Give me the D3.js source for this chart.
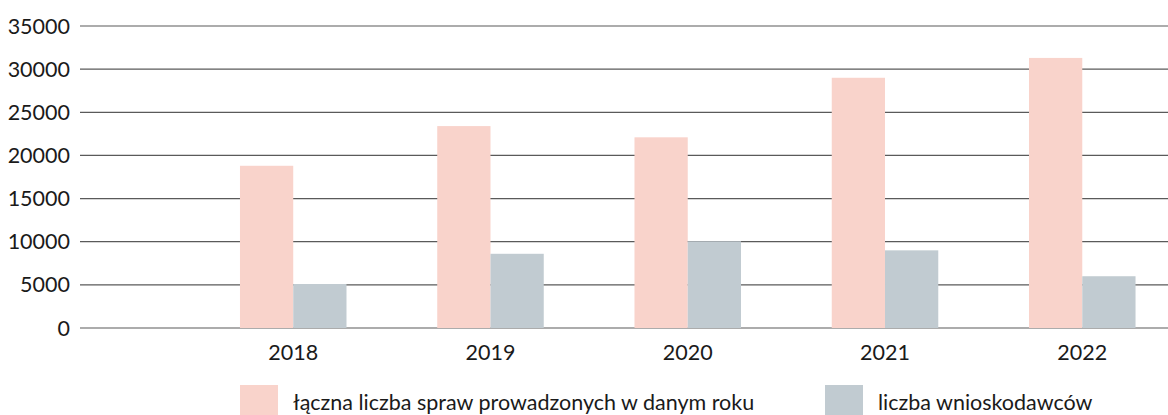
<!DOCTYPE html>
<html>
<head>
<meta charset="utf-8">
<script src="https://cdn.jsdelivr.net/npm/d3@7"></script>
<style>
  body { margin: 0; background: #fff; }
  svg { display: block; font-family: Lato, "Open Sans", sans-serif; }
</style>
</head>
<body>
<script>
const years = ["2018", "2019", "2020", "2021", "2022"];
const seriesNames = ["łączna liczba spraw prowadzonych w danym roku", "liczba wnioskodawców"];
const cases = [18800, 23400, 22100, 29000, 31300];
const applicants = [5100, 8600, 10050, 9000, 6000];
const yTicks = [0, 5000, 10000, 15000, 20000, 25000, 30000, 35000];
const colors = ["#f9d3cb", "#c1cbd1"];

const width = 1168, height = 415;
const plotLeft = 80, plotTop = 26, plotBottom = 328;
const fontSize = 21.5;

const svg = d3.select("body").append("svg")
  .attr("width", width)
  .attr("height", height);

const y = d3.scaleLinear().domain([0, 35000]).range([plotBottom, plotTop]);
const x = d3.scaleBand().domain(years).range([194.6, 1180.9])
  .paddingInner(0.46).paddingOuter(0.23);
const xs = d3.scaleBand().domain([0, 1]).range([0, x.bandwidth()]);

// gridlines
svg.append("g")
  .selectAll("line")
  .data(yTicks)
  .join("line")
  .attr("x1", plotLeft)
  .attr("x2", width)
  .attr("y1", d => y(d))
  .attr("y2", d => y(d))
  .attr("stroke", "#5a5a5a")
  .attr("stroke-width", 1.2);

// y labels
svg.append("g")
  .selectAll("text")
  .data(yTicks)
  .join("text")
  .attr("x", 70)
  .attr("y", d => y(d))
  .attr("dy", "0.35em")
  .attr("text-anchor", "end")
  .attr("font-size", fontSize)
  .attr("fill", "#1a1a1a")
  .text(d => d);

// bars
const data = years.map((yr, i) => ({ year: yr, values: [cases[i], applicants[i]] }));
svg.append("g")
  .selectAll("g")
  .data(data)
  .join("g")
  .attr("transform", d => `translate(${x(d.year)},0)`)
  .selectAll("rect")
  .data(d => d.values)
  .join("rect")
  .attr("x", (v, i) => xs(i))
  .attr("width", xs.bandwidth())
  .attr("y", v => y(v))
  .attr("height", v => y(0) - y(v))
  .attr("fill", (v, i) => colors[i]);

// x labels
svg.append("g")
  .selectAll("text")
  .data(years)
  .join("text")
  .attr("x", d => x(d) + x.bandwidth() / 2)
  .attr("y", 360)
  .attr("text-anchor", "middle")
  .attr("font-size", fontSize)
  .attr("fill", "#1a1a1a")
  .text(d => d);

// legend
const legendX = [240, 825];
const legend = svg.append("g")
  .selectAll("g")
  .data(seriesNames)
  .join("g")
  .attr("transform", (d, i) => `translate(${legendX[i]},385)`);
legend.append("rect")
  .attr("width", 38)
  .attr("height", 32)
  .attr("fill", (d, i) => colors[i]);
legend.append("text")
  .attr("x", 53)
  .attr("y", 25)
  .attr("font-size", fontSize)
  .attr("fill", "#1a1a1a")
  .text(d => d);
</script>
</body>
</html>
